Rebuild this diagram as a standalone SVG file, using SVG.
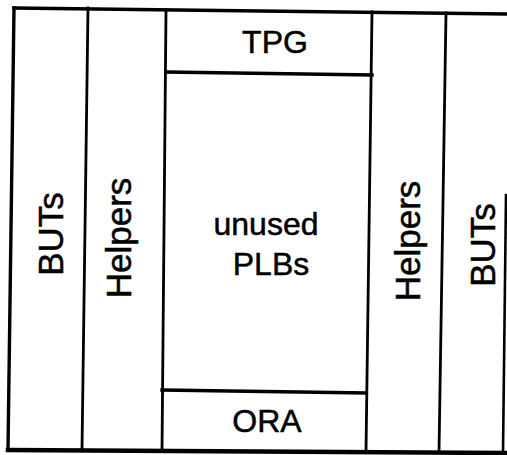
<svg xmlns="http://www.w3.org/2000/svg" width="507" height="455" viewBox="0 0 507 455">
<style>
.ln{stroke:#000;stroke-width:3.4;fill:none;stroke-linecap:square}
.thin{stroke-width:2.8}
.t{font-family:"Liberation Sans",Arial,sans-serif;fill:#000;stroke:#000;stroke-width:0.5;text-anchor:middle}
.h{font-size:32px}
.v{font-size:35px}
</style>
<rect width="507" height="455" fill="#fff"/>
<g id="lines">
<path class="ln" d="M14,8 L507,14"/>
<path class="ln" d="M14,8 L8,449"/>
<path class="ln" style="stroke-width:4.5" d="M8,450 L507,453"/>
<path class="ln" style="stroke-width:2.6" d="M506,195 L503,452"/>
<path class="ln thin" d="M88,8 L82,450"/>
<path class="ln thin" d="M166,10 L162,451"/>
<path class="ln thin" d="M372,12 L366,452"/>
<path class="ln thin" d="M446,13 L439,452"/>
<path class="ln" d="M166,72 L372,75"/>
<path class="ln" d="M162,390 L366,393"/>
</g>
<g id="buts-left"><text class="t v" transform="translate(63,234) rotate(-90)">BUTs</text></g>
<g id="helpers-left"><text class="t v" transform="translate(131,238) rotate(-90)">Helpers</text></g>
<g id="tpg"><text class="t h" x="275" y="53">TPG</text></g>
<g id="unused-plbs"><text class="t h" x="266" y="235">unused</text><text class="t h" x="271" y="275">PLBs</text></g>
<g id="ora"><text class="t h" x="267" y="432">ORA</text></g>
<g id="helpers-right"><text class="t v" transform="translate(420,241) rotate(-90)">Helpers</text></g>
<g id="buts-right"><text class="t v" transform="translate(495,245) rotate(-90)">BUTs</text></g>
</svg>
